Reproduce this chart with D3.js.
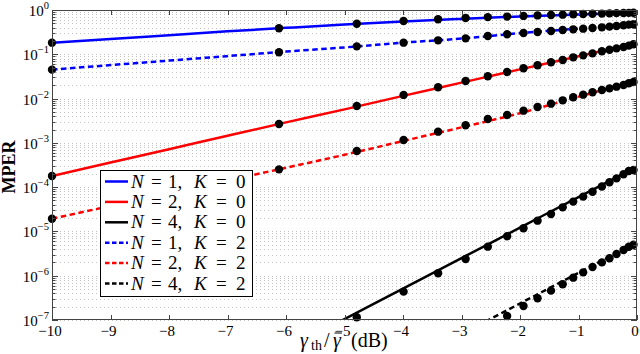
<!DOCTYPE html>
<html>
<head>
<meta charset="utf-8">
<script src="https://cdnjs.cloudflare.com/ajax/libs/d3/7.8.5/d3.min.js"></script>
<style>
  body { margin: 0; background: #fff; }
  svg { display: block; }
</style>
</head>
<body>
<div id="chart"></div>
<script>
// x positions (dB) of the simulated points
var markDb = [-10, -6.12, -4.79, -3.99, -3.40, -2.93, -2.55, -2.22, -1.94, -1.70, -1.47,
  -1.27, -1.09, -0.92, -0.76, -0.60, -0.47, -0.35, -0.23, -0.14, -0.06];

// simulated MPER (markers), null = below the axis
var markN1K0 = [0.183, 0.386, 0.49, 0.565, 0.62, 0.66, 0.69, 0.71, 0.735, 0.755, 0.77,
  0.785, 0.80, 0.81, 0.82, 0.83, 0.84, 0.85, 0.855, 0.86, 0.865];
var markN2K0 = [1.79e-4, 2.67e-3, 6.8e-3, 0.0121, 0.018, 0.0249, 0.0318, 0.0398, 0.0482, 0.0564, 0.0659,
  0.0743, 0.0853, 0.0946, 0.105, 0.117, 0.127, 0.136, 0.146, 0.157, 0.168];
var markN4K0 = [null, null, 1.15e-7, 4.37e-7, 1.14e-6, 2.39e-6, 4.53e-6, 7.76e-6, 1.18e-5, 1.75e-5, 2.48e-5,
  3.5e-5, 4.71e-5, 6.1e-5, 7.9e-5, 1.03e-4, 1.29e-4, 1.58e-4, 1.95e-4, 2.32e-4, 2.45e-4];
var markN1K2 = [0.045, 0.111, 0.151, 0.183, 0.2065, 0.229, 0.259, 0.2825, 0.303, 0.318, 0.336,
  0.353, 0.366, 0.379, 0.393, 0.406, 0.421, 0.436, 0.451, 0.467, 0.475];
var markN2K2 = [1.94e-5, 2.52e-4, 6.55e-4, 1.16e-3, 1.79e-3, 2.49e-3, 3.46e-3, 4.26e-3, 5.33e-3, 6.46e-3, 7.67e-3,
  9.12e-3, 0.01067, 0.01225, 0.01384, 0.01563, 0.0170, 0.01858, 0.0203, 0.0221, 0.0237];
var markN4K2 = [null, null, null, null, null, null, null, 1.23e-7, 2.07e-7, 3.09e-7, 4.6e-7,
  6.41e-7, 9.04e-7, 1.19e-6, 1.57e-6, 2.0e-6, 2.47e-6, 3.1e-6, 3.8e-6, 4.5e-6, 5.0e-6];

// analytical curves (lines)
var lineDb = [-10, -9, -8, -7, -6, -5, -4, -3, -2, -1, 0];
var lineN1K0 = [0.183, 0.22, 0.27, 0.33, 0.395, 0.47, 0.55, 0.63, 0.715, 0.795, 0.865];
var lineN2K0 = [1.79e-4, 3.59e-4, 7.2e-4, 1.45e-3, 2.9e-3, 5.7e-3, 0.0115, 0.0229, 0.0457, 0.090, 0.177];
var lineN4K0 = [null, null, null, null, 2.1e-8, 1.05e-7, 5.1e-7, 2.5e-6, 1.22e-5, 5.96e-5, 2.9e-4];
var lineN1K2 = [0.045, 0.057, 0.072, 0.091, 0.115, 0.143, 0.183, 0.226, 0.30, 0.38, 0.483];
var lineN2K2 = [1.94e-5, 3.76e-5, 7.28e-5, 1.41e-4, 2.74e-4, 5.37e-4, 1.10e-3, 2.24e-3, 4.68e-3, 0.011, 0.0254];
var lineN4K2 = [null, null, null, null, null, null, null, 4.8e-8, 2.36e-7, 1.16e-6, 5.66e-6];

var legendN = [1, 2, 4, 1, 2, 4];
var legendK = [0, 0, 0, 2, 2, 2];

var xTicks = [-10, -9, -8, -7, -6, -5, -4, -3, -2, -1, 0];
var yExps = [0, -1, -2, -3, -4, -5, -6, -7];

var series = [
  { color: '#0000ff', dash: null, line: lineN1K0, mark: markN1K0 },
  { color: '#ff0000', dash: null, line: lineN2K0, mark: markN2K0 },
  { color: '#000000', dash: null, line: lineN4K0, mark: markN4K0 },
  { color: '#0000ff', dash: '5.5,3.5', line: lineN1K2, mark: markN1K2 },
  { color: '#ff0000', dash: '5.5,3.5', line: lineN2K2, mark: markN2K2 },
  { color: '#000000', dash: '5.5,3.5', line: lineN4K2, mark: markN4K2 }
];

drawChart();

function drawChart() {
  var W = 640, H = 354;
  var pl = 52, pr = 637, pt = 10, pb = 320;
  var serif = '"Liberation Serif", "Times New Roman", serif';

  var x = d3.scaleLinear().domain([-10, 0]).range([pl, pr]);
  var y = d3.scaleLog().domain([1e-7, 1]).range([pb, pt]);

  var svg = d3.select('#chart').append('svg')
    .attr('width', W)
    .attr('height', H)
    .style('font-family', serif);

  svg.append('defs').append('clipPath').attr('id', 'plot')
    .append('rect')
    .attr('x', pl).attr('y', pt)
    .attr('width', pr - pl).attr('height', pb - pt);

  // dotted grid at every decade step
  var gridVals = [];
  yExps.forEach(function (e) {
    if (e === 0) return;
    for (var m = 1; m <= 9; m++) gridVals.push(m * Math.pow(10, e));
  });
  gridVals.push(1);

  svg.append('g').selectAll('line').data(gridVals).enter().append('line')
    .attr('x1', pl).attr('x2', pr)
    .attr('y1', function (d) { return Math.round(y(d)) + 0.5; })
    .attr('y2', function (d) { return Math.round(y(d)) + 0.5; })
    .style('stroke', '#c4c4c4')
    .style('stroke-width', 1)
    .style('stroke-dasharray', '1,3');

  // curves
  var line = d3.line()
    .defined(function (d) { return d[1] != null; })
    .x(function (d) { return x(d[0]); })
    .y(function (d) { return y(d[1]); })
    .curve(d3.curveMonotoneX);

  var curves = svg.append('g').attr('clip-path', 'url(#plot)');
  series.forEach(function (s) {
    curves.append('path')
      .datum(lineDb.map(function (d, i) { return [d, s.line[i]]; }))
      .attr('d', line)
      .style('fill', 'none')
      .style('stroke', s.color)
      .style('stroke-width', 2.5)
      .style('stroke-dasharray', s.dash);
  });

  // markers
  var marks = svg.append('g');
  series.forEach(function (s) {
    var pts = markDb.map(function (d, i) { return [d, s.mark[i]]; })
      .filter(function (d) { return d[1] != null && d[1] >= 1e-7; });
    marks.selectAll(null).data(pts).enter().append('circle')
      .attr('cx', function (d) { return x(d[0]); })
      .attr('cy', function (d) { return y(d[1]); })
      .attr('r', 4.2)
      .style('fill', '#000');
  });

  // frame and ticks
  var axisColor = '#444';
  svg.append('rect')
    .attr('x', pl + 0.5).attr('y', pt + 0.5)
    .attr('width', pr - pl - 1).attr('height', pb - pt - 1)
    .style('fill', 'none')
    .style('stroke', axisColor)
    .style('stroke-width', 1);

  var tk = svg.append('g').style('stroke', axisColor).style('stroke-width', 1);
  xTicks.forEach(function (t) {
    var px = Math.round(x(t)) + 0.5;
    tk.append('line').attr('x1', px).attr('x2', px).attr('y1', pb).attr('y2', pb - 5);
    tk.append('line').attr('x1', px).attr('x2', px).attr('y1', pt).attr('y2', pt + 5);
  });
  gridVals.forEach(function (v) {
    var py = Math.round(y(v)) + 0.5;
    var lv = Math.log10(v);
    var major = Math.abs(lv - Math.round(lv)) < 1e-9;
    var len = major ? 6 : 3.5;
    tk.append('line').attr('x1', pl).attr('x2', pl + len).attr('y1', py).attr('y2', py);
    tk.append('line').attr('x1', pr).attr('x2', pr - len).attr('y1', py).attr('y2', py);
  });

  // tick labels
  svg.append('g').selectAll('text').data(xTicks).enter().append('text')
    .attr('x', function (d) { return x(d) - 2; })
    .attr('y', 336)
    .attr('text-anchor', 'middle')
    .style('font-size', '15px')
    .text(function (d) { return d < 0 ? '\u2212' + Math.abs(d) : d; });

  yExps.forEach(function (e) {
    var t = svg.append('text')
      .attr('x', 49)
      .attr('y', y(Math.pow(10, e)) + 6)
      .attr('text-anchor', 'end')
      .style('font-size', '15px');
    t.append('tspan').text('10');
    t.append('tspan')
      .attr('dy', -7)
      .style('font-size', '10.5px')
      .text(e < 0 ? '\u2212' + Math.abs(e) : e);
  });

  // axis labels
  svg.append('text')
    .attr('transform', 'translate(15,167) rotate(-90)')
    .attr('text-anchor', 'middle')
    .style('font-size', '18px')
    .style('font-weight', 'bold')
    .text('MPER');

  var xl = svg.append('text')
    .attr('y', 347)
    .style('font-size', '20px');
  xl.append('tspan').attr('x', 300).style('font-style', 'italic').text('\u03b3');
  xl.append('tspan').attr('x', 311).attr('dy', 3).style('font-size', '14px').text('th');
  xl.append('tspan').attr('x', 324).attr('dy', -3).text('/');
  xl.append('tspan').attr('x', 333).style('font-style', 'italic').text('\u03b3');
  xl.append('tspan').attr('x', 351).text('(dB)');
  // overline on the second gamma (character index 4)
  var ext = xl.node().getExtentOfChar(4);
  svg.append('line')
    .attr('x1', ext.x + 1.5).attr('x2', ext.x + ext.width + 1)
    .attr('y1', ext.y + 4).attr('y2', ext.y + 4)
    .style('stroke', '#000')
    .style('stroke-width', 1);

  // legend
  var lg = svg.append('g');
  lg.append('rect')
    .attr('x', 100.5).attr('y', 170.5)
    .attr('width', 152).attr('height', 126)
    .style('fill', '#fff')
    .style('stroke', '#000')
    .style('stroke-width', 1);

  series.forEach(function (s, i) {
    var cy = 181.5 + i * 20.4;
    lg.append('line')
      .attr('x1', 105).attr('x2', 128)
      .attr('y1', cy).attr('y2', cy)
      .style('stroke', s.color)
      .style('stroke-width', 2.5)
      .style('stroke-dasharray', s.dash ? '4.5,2.5' : null);
    var t = lg.append('text')
      .attr('y', cy + 6)
      .style('font-size', '19px');
    t.append('tspan').attr('x', 131).style('font-style', 'italic').text('N');
    t.append('tspan').attr('x', 151).text('=');
    t.append('tspan').attr('x', 168).text(legendN[i] + ',');
    t.append('tspan').attr('x', 194).style('font-style', 'italic').text('K');
    t.append('tspan').attr('x', 216).text('=');
    t.append('tspan').attr('x', 236).text(legendK[i]);
  });
}
</script>
</body>
</html>
